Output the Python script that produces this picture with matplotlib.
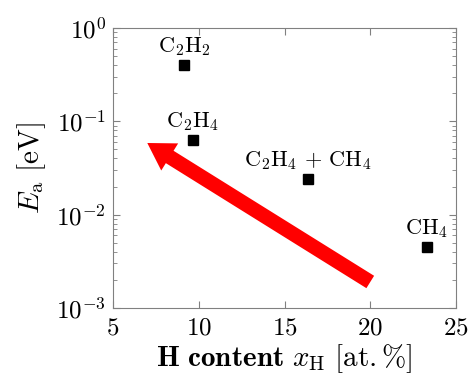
import matplotlib
matplotlib.use("Agg")
import matplotlib.pyplot as plt
from matplotlib.ticker import LogLocator, NullFormatter

plt.rcParams['mathtext.fontset'] = 'cm'
plt.rcParams['font.family'] = 'cmr10'
plt.rcParams['axes.formatter.use_mathtext'] = True

labels = [r'$\mathrm{C_2H_2}$', r'$\mathrm{C_2H_4}$', r'$\mathrm{C_2H_4}\,+\,\mathrm{CH_4}$', r'$\mathrm{CH_4}$']
x_H = [9.14, 9.66, 16.37, 23.29]
E_a = [0.40, 0.063, 0.0241, 0.00447]
arrow_start = (20.0, 0.0019)
arrow_end = (7.0, 0.0586)

fig = plt.figure(figsize=(4.72, 3.79), dpi=100)
ax = fig.add_axes([113/472, 1-308/379, (456-113)/472, (308-28)/379])

ax.set_yscale('log')
ax.set_xlim(5, 25)
ax.set_ylim(1e-3, 1e0)
ax.plot(x_H, E_a, 's', color='black', markersize=6.5, zorder=3)
for lab, x, y in zip(labels, x_H, E_a):
    ax.annotate(lab, (x, y), xytext=(0, 5), textcoords='offset points',
                ha='center', va='bottom', fontsize=16)

ax.annotate('', xy=arrow_end, xytext=arrow_start,
            arrowprops=dict(arrowstyle='simple,tail_width=10.5,head_width=23,head_length=19',
                            mutation_scale=1, color='#ff0000', lw=0,
                            shrinkA=0, shrinkB=0), zorder=2)

ax.set_xticks([5, 10, 15, 20, 25])
ax.yaxis.set_major_locator(LogLocator(base=10, numticks=10))
ax.yaxis.set_minor_locator(LogLocator(base=10, subs=range(2, 10), numticks=20))
ax.yaxis.set_minor_formatter(NullFormatter())
ax.tick_params(which='both', direction='in', colors='#808080', labelcolor='black', labelsize=18,
               top=True, right=True)
ax.tick_params(which='major', length=5)
ax.tick_params(which='minor', length=3)
ax.tick_params(axis='x', pad=7)
ax.tick_params(axis='y', pad=5)
for s in ax.spines.values():
    s.set_color('#808080')

ax.set_xlabel(r'$\mathbf{H\ content}\ x_{\mathrm{H}}\ [\mathrm{at.\%}]$', fontsize=21, labelpad=2)
ax.set_ylabel(r'$E_{\mathrm{a}}\ [\mathrm{eV}]$', fontsize=21, labelpad=6)

fig.savefig('out.png', dpi=100)
